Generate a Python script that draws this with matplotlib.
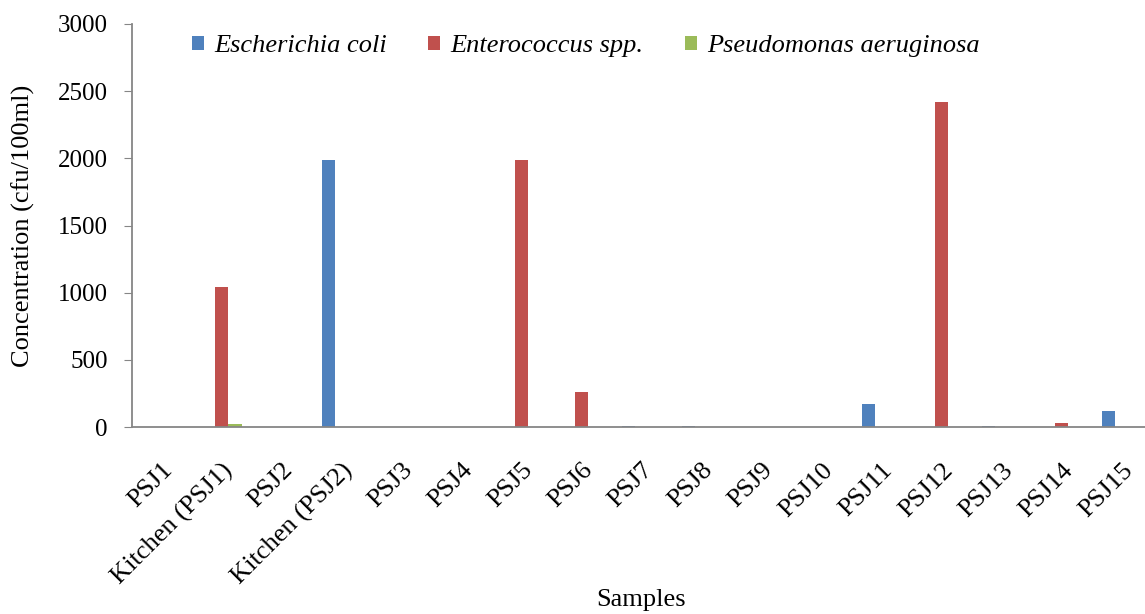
import matplotlib
matplotlib.use("Agg")
import matplotlib.pyplot as plt
import numpy as np

categories = ["PSJ1", "Kitchen (PSJ1)", "PSJ2", "Kitchen (PSJ2)", "PSJ3", "PSJ4", "PSJ5",
              "PSJ6", "PSJ7", "PSJ8", "PSJ9", "PSJ10", "PSJ11", "PSJ12", "PSJ13", "PSJ14", "PSJ15"]
e_coli =       [0, 3, 0, 1985, 0, 2, 0, 0, 6, 6, 0, 0, 170, 0, 6, 0, 120]
enterococcus = [0, 1045, 0, 0, 0, 0, 1985, 262, 0, 0, 0, 0, 0, 2420, 0, 28, 0]
pseudomonas =  [0, 25, 3, 3, 0, 2, 0, 0, 0, 0, 0, 3, 3, 0, 0, 0, 0]
series_names = ["Escherichia coli", "Enterococcus spp.", "Pseudomonas aeruginosa"]
colors = ["#4F81BD", "#C0504D", "#9BBB59"]
yticks = [0, 500, 1000, 1500, 2000, 2500, 3000]

plt.rcParams['font.family'] = ['Liberation Serif', 'DejaVu Serif']

fig = plt.figure(figsize=(11.45, 6.14), dpi=100)
ax = fig.add_axes([131.6 / 1145, 1 - 427 / 614, 1020 / 1145, (427 - 24) / 614])

x = np.arange(len(categories))
w = 0.222
for i, (vals, name, c) in enumerate(zip([e_coli, enterococcus, pseudomonas], series_names, colors)):
    ax.bar(x + (i - 1) * w, vals, width=w, color=c, label=name, zorder=2)

ax.set_xlim(-0.5, len(categories) - 0.5)
ax.set_ylim(0, 3000)
ax.set_yticks(yticks)
ax.set_yticklabels([str(v) for v in yticks], fontsize=18)
ax.set_xticks(x)
ax.set_xticklabels(categories, rotation=45, ha='right', va='top', rotation_mode='anchor', fontsize=19)
ax.tick_params(axis='x', length=0, pad=23)
ax.tick_params(axis='y', length=6, color='#868686', direction='out', pad=11)

for s in ['top', 'right']:
    ax.spines[s].set_visible(False)
for s in ['left', 'bottom']:
    ax.spines[s].set_color('#868686')
    ax.spines[s].set_linewidth(1.3)

ax.yaxis.set_label_coords(-(131.6 - 23) / 1020, 0.5)
ax.set_ylabel("Concentration (cfu/100ml)", fontsize=19, va='center')
fig.text(641 / 1145, 1 - 600 / 614, "Samples", fontsize=19, ha='center', va='center')

leg = ax.legend(loc='center', bbox_to_anchor=((586 - 131.6) / 1020, 1 - (46 - 24) / 403), ncol=3,
                frameon=False, prop={'style': 'italic', 'size': 19, 'family': 'Liberation Serif'},
                handlelength=0.45, handleheight=0.45, handletextpad=0.4, columnspacing=1.55,
                borderpad=0, borderaxespad=0)

fig.savefig("out.png", dpi=100)
